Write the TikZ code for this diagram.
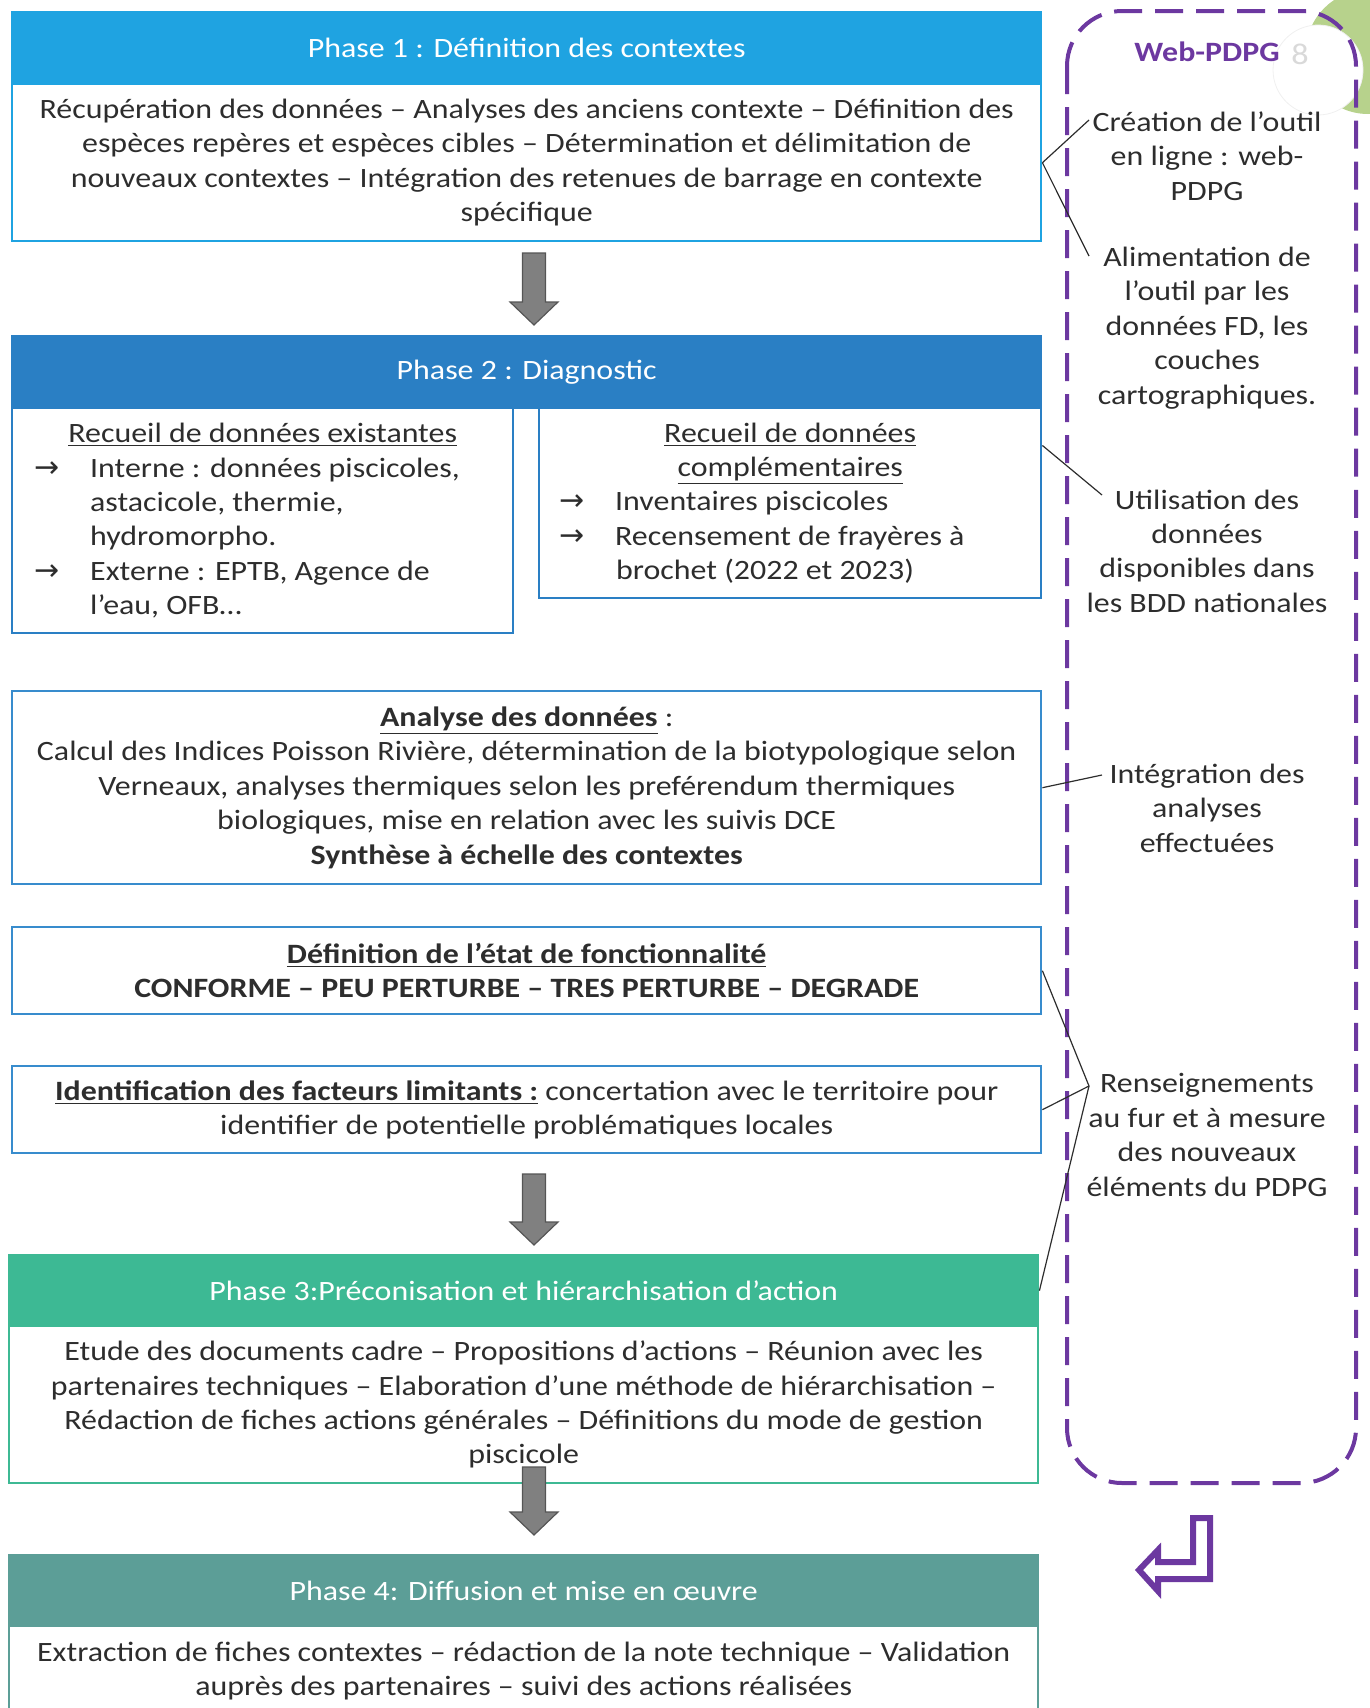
\documentclass[tikz,border=0pt]{standalone}
\usepackage{fontspec}
\setmainfont{Carlito}[FakeStretch=1.14]
\newfontfamily\arrowfont{DejaVu Sans}
\usetikzlibrary{calc}

\definecolor{phaseone}{RGB}{31,163,225}
\definecolor{phasetwo}{RGB}{42,127,196}
\definecolor{boxblue}{RGB}{56,140,205}
\definecolor{phasethree}{RGB}{61,185,148}
\definecolor{phasefour}{RGB}{92,158,151}
\definecolor{webpurple}{RGB}{108,56,160}
\definecolor{textgray}{RGB}{45,45,45}
\definecolor{arrowgray}{RGB}{128,128,128}
\definecolor{arrowedge}{RGB}{85,85,85}
\definecolor{leafgreen}{RGB}{183,210,140}

\newcommand\txtsize{\fontsize{14}{17.2}\selectfont}
\newcommand\headsize{\fontsize{14}{17.2}\selectfont}
\newcommand\itemarrow{\makebox[28pt][l]{\arrowfont\fontsize{15}{17.2}\selectfont →}}

\begin{document}
\begin{tikzpicture}[x=0.5pt,y=-0.5pt,
    phasehead/.style={draw=#1, fill=#1, line width=1.2pt, anchor=north west,
        minimum width=514.5pt, minimum height=36pt, inner sep=0pt,
        text=white, font=\headsize},
    phasebody/.style={draw=#1, line width=1.2pt, anchor=north west,
        minimum width=514.5pt, inner sep=0pt, align=center,
        text=textgray, font=\txtsize},
    sidetext/.style={align=center, text=textgray, font=\txtsize, inner sep=0pt},
    link/.style={draw=textgray, line width=0.6pt},
    grayarrow/.style={fill=arrowgray, draw=arrowedge, line width=0.6pt},
    webframe/.style={draw=webpurple, line width=2pt, rounded corners=27.5pt,
        dash pattern=on 14pt off 6.5pt},
]
    \useasboundingbox (0,0) rectangle (1370,1708);

    % Leaf in the top right corner
    \fill[leafgreen] (1368,52) circle (62);
    \filldraw[fill=white, draw=black!6, line width=0.4pt] (1318,70) circle (45);

    % Web-PDPG frame
    \draw[webframe] (1067,11) rectangle (1356,1483);

    % Phase 1
    \node[phasebody=phaseone, minimum height=78.5pt] (p1body) at (11,83)
        {Récupération des données – Analyses des anciens contexte – Définition des\\
         espèces repères et espèces cibles – Détermination et délimitation de\\
         nouveaux contextes – Intégration des retenues de barrage en contexte\\
         spécifique};
    \node[phasehead=phaseone] (p1head) at (11,11) {Phase 1 : Définition des contextes};

    % Arrow between phase 1 and phase 2
    \coordinate (a1top) at (534,253);
    \coordinate (a1tip) at (534,325);
    \draw[grayarrow] (a1top) ++(-11.5,0) -- ++(23,0) -- ++(0,49) -- ++(12.5,0)
        -- (a1tip) -- ++(-24,-23) -- ++(12.5,0) -- cycle;

    % Phase 2
    \node[phasebody=phasetwo, minimum width=250.5pt, minimum height=112.5pt] (p2left) at (11,407)
        {\begin{minipage}{250.5pt}
         \centering\underline{Recueil de données existantes}\par
         \raggedright
         \hangindent=39pt\hangafter=1\hspace*{11pt}\itemarrow Interne : données piscicoles,\newline
         astacicole, thermie,\newline hydromorpho.\par
         \hangindent=39pt\hangafter=1\hspace*{11pt}\itemarrow Externe : EPTB, Agence de\newline
         l’eau, OFB…
         \end{minipage}};
    \node[phasebody=phasetwo, minimum width=251pt, minimum height=95pt] (p2right) at (538,407)
        {\begin{minipage}{251pt}
         \centering\underline{Recueil de données}\\ \underline{complémentaires}\par
         \raggedright
         \hspace*{10pt}\itemarrow Inventaires piscicoles\par
         \hangindent=38.5pt\hangafter=1\hspace*{10pt}\itemarrow Recensement de frayères à\newline
         brochet (2022 et 2023)
         \end{minipage}};
    \node[phasehead=phasetwo] (p2head) at (11,335) {Phase 2 : Diagnostic};

    % Analysis, state and limiting factors
    \node[phasebody=boxblue, minimum height=96.5pt] (analyse) at (11,690)
        {\underline{\textbf{Analyse des données}} :\\
         Calcul des Indices Poisson Rivière, détermination de la biotypologique selon\\
         Verneaux, analyses thermiques selon les preférendum thermiques\\
         biologiques, mise en relation avec les suivis DCE\\
         \textbf{Synthèse à échelle des contextes}};
    \node[phasebody=boxblue, minimum height=43.5pt] (definition) at (11,926)
        {\underline{\textbf{Définition de l’état de fonctionnalité}}\\
         \textbf{CONFORME – PEU PERTURBE – TRES PERTURBE – DEGRADE}};
    \node[phasebody=boxblue, minimum height=43.5pt] (facteurs) at (11,1065)
        {\underline{\textbf{Identification des facteurs limitants :}} concertation avec le territoire pour\\
         identifier de potentielle problématiques locales};

    % Arrow towards phase 3
    \coordinate (a2top) at (534,1174);
    \coordinate (a2tip) at (534,1245);
    \draw[grayarrow] (a2top) ++(-11.5,0) -- ++(23,0) -- ++(0,48) -- ++(12.5,0)
        -- (a2tip) -- ++(-24,-23) -- ++(12.5,0) -- cycle;

    % Phase 3
    \node[phasebody=phasethree, minimum height=78.5pt] (p3body) at (8,1325)
        {Etude des documents cadre – Propositions d’actions – Réunion avec les\\
         partenaires techniques – Elaboration d’une méthode de hiérarchisation –\\
         Rédaction de fiches actions générales – Définitions du mode de gestion\\
         piscicole};
    \node[phasehead=phasethree, minimum height=35.5pt] (p3head) at (8,1254)
        {Phase 3:Préconisation et hiérarchisation d’action};

    % Arrow towards phase 4 (over the last line of phase 3)
    \coordinate (a3top) at (534,1467);
    \coordinate (a3tip) at (534,1535);
    \draw[grayarrow] (a3top) ++(-11.5,0) -- ++(23,0) -- ++(0,45) -- ++(12.5,0)
        -- (a3tip) -- ++(-24,-23) -- ++(12.5,0) -- cycle;

    % Phase 4 (runs off the bottom)
    \node[phasebody=phasefour, minimum height=45pt] (p4body) at (8,1625)
        {Extraction de fiches contextes – rédaction de la note technique – Validation\\
         auprès des partenaires – suivi des actions réalisées};
    \node[phasehead=phasefour, minimum height=35.5pt] (p4head) at (8,1554)
        {Phase 4: Diffusion et mise en œuvre};

    % Web-PDPG column
    \node[font=\fontsize{14}{17}\selectfont\bfseries, text=webpurple] (webtitle) at (1207,52) {Web-PDPG};
    \node[font=\fontsize{15}{18}\selectfont, text=black!15] (webicon) at (1300,54) {8};
    \node[sidetext] (creation) at (1207,156) {Création de l’outil\\ en ligne : web-\\ PDPG};
    \node[sidetext] (alimentation) at (1207,328)
        {Alimentation de\\ l’outil par les\\ données FD, les\\ couches\\ cartographiques.};
    \node[sidetext] (utilisation) at (1207,551)
        {Utilisation des\\ données\\ disponibles dans\\ les BDD nationales};
    \node[sidetext] (integration) at (1207,808) {Intégration des\\ analyses\\ effectuées};
    \node[sidetext] (renseignements) at (1207,1135)
        {Renseignements\\ au fur et à mesure\\ des nouveaux\\ éléments du PDPG};

    % Free ends of the links
    \coordinate (c1) at (1089,120);
    \coordinate (c2) at (1089,256);
    \coordinate (c3) at (1102,495);
    \coordinate (c4) at (1102,775);
    \coordinate (c5) at (1089,1086);

    % Links from the boxes to the column
    \draw[link] (p1body.east) -- (c1);
    \draw[link] (p1body.east) -- (c2);
    \draw[link] ($(p2right.north east)!0.2!(p2right.south east)$) -- (c3);
    \draw[link] (analyse.east) -- (c4);
    \draw[link] (definition.east) -- (c5);
    \draw[link] (facteurs.east) -- (c5);
    \draw[link] (p3head.east) -- (c5);

    % Return arrow under the frame
    \draw[webpurple, line width=3pt, line join=miter] (1139,1570) -- (1158,1550) -- (1158,1562)
        -- (1193,1562) -- (1193,1518) -- (1210,1518) -- (1210,1579) -- (1158,1579)
        -- (1158,1591) -- cycle;

\end{tikzpicture}
\end{document}
